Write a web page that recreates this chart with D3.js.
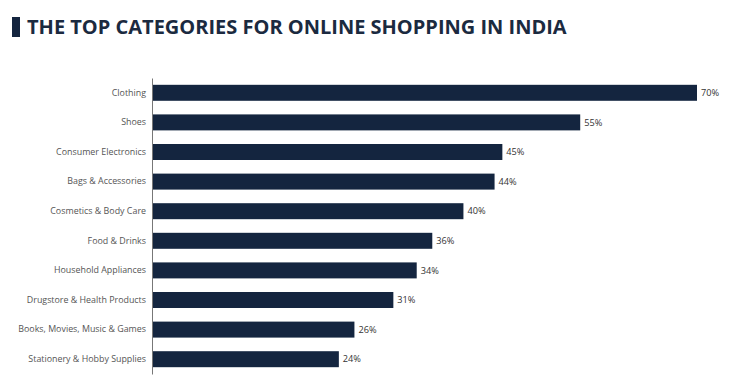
<!DOCTYPE html>
<html><head><meta charset="utf-8">
<script src="https://cdn.jsdelivr.net/npm/d3@7"></script>
<style>body{margin:0;background:#fff;}svg{display:block;}</style>
</head><body>
<script>
const categories = ["Clothing","Shoes","Consumer Electronics","Bags & Accessories","Cosmetics & Body Care","Food & Drinks","Household Appliances","Drugstore & Health Products","Books, Movies, Music & Games","Stationery & Hobby Supplies"];
const values = [70,55,45,44,40,36,34,31,26,24];
const titleText = "THE TOP CATEGORIES FOR ONLINE SHOPPING IN INDIA";

const W=730,H=380;
const svg=d3.select("body").append("svg").attr("width",W).attr("height",H);
const x=d3.scaleLinear().domain([0,70]).range([152,697]);
const y=d3.scaleBand().domain(categories).range([78,374]).paddingInner(0.46).paddingOuter(0.23);

svg.append("rect").attr("x",12).attr("y",17).attr("width",8).attr("height",20).attr("fill","#14253f");
svg.append("text").attr("x",27).attr("y",34).text(titleText)
  .attr("font-family","Open Sans").attr("font-weight",700).attr("font-size",20).attr("fill","#1b2a40");

svg.selectAll("rect.bar").data(values).join("rect").attr("class","bar")
  .attr("x",x(0)).attr("y",(d,i)=>y(categories[i])).attr("width",d=>x(d)-x(0)).attr("height",y.bandwidth())
  .attr("fill","#14253f");

svg.selectAll("text.val").data(values).join("text").attr("class","val")
  .attr("x",d=>x(d)+4).attr("y",(d,i)=>y(categories[i])+y.bandwidth()/2).attr("dy","0.35em")
  .text(d=>d+"%").attr("font-family","Open Sans").attr("font-size",9.2).attr("fill","#333");

const ax=d3.axisLeft(y).tickSize(0).tickPadding(6);
const g=svg.append("g").attr("transform",`translate(${x(0)},0)`).call(ax);
g.select(".domain").attr("stroke","#777").attr("stroke-width",1);
g.selectAll("text").attr("font-family","Open Sans").attr("font-size",8.9).attr("fill","#555");
</script>
</body></html>
